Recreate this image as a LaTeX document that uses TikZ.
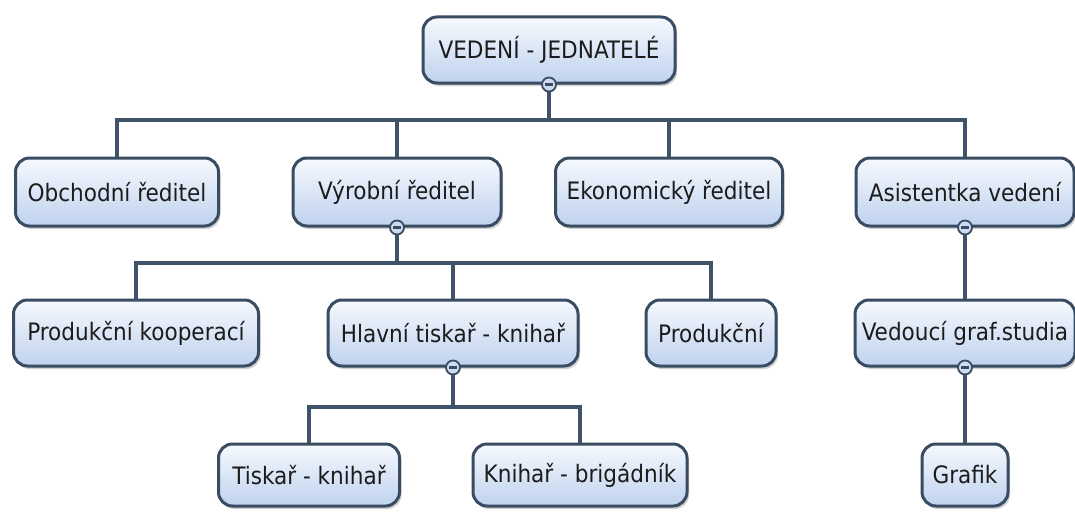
\documentclass[tikz,border=0pt]{standalone}
\usepackage{fontspec}
\setmainfont{DejaVu Sans Condensed}
\usetikzlibrary{shadows}
\definecolor{boxborder}{HTML}{3A4C62}
\definecolor{linecol}{HTML}{3E5268}
\definecolor{boxtop}{HTML}{F6F9FE}
\definecolor{boxbot}{HTML}{BFD2EE}
\definecolor{txt}{HTML}{1C1C1C}
\tikzset{
  orgbox/.style={draw=boxborder, line width=3pt, rounded corners=14pt,
    top color=boxtop, bottom color=boxbot, text=txt, inner sep=0pt,
    font=\fontsize{24}{28}\selectfont,
    drop shadow={shadow xshift=2pt, shadow yshift=-3pt, opacity=0.35}},
  conn/.style={draw=linecol, line width=3.2pt},
  collapse/.style={circle, draw=boxborder, line width=1.8pt, fill=boxbot!80!white,
    minimum size=14pt, inner sep=0pt,
    path picture={\draw[boxborder, line width=2.2pt]
      ([xshift=3pt]path picture bounding box.west) --
      ([xshift=-3pt]path picture bounding box.east);}}
}
\begin{document}
\begin{tikzpicture}[x=1pt,y=-1pt]
\useasboundingbox[fill=white] (0,0) rectangle (1075,511);
% bus coordinates
\coordinate (b0) at (0,120);
\coordinate (b1) at (0,263);
\coordinate (b2) at (0,407);
% boxes
\node[orgbox, minimum width=252pt, minimum height=66pt] (top) at (549,50) {VEDENÍ - JEDNATELÉ};
\node[orgbox, minimum width=203pt, minimum height=68pt] (obch) at (117,192) {Obchodní ředitel};
\node[orgbox, minimum width=208pt, minimum height=68pt] (vyr) at (397,192) {Výrobní ředitel};
\node[orgbox, minimum width=227pt, minimum height=68pt] (eko) at (669,192) {Ekonomický ředitel};
\node[orgbox, minimum width=218pt, minimum height=68pt] (asis) at (965,192) {Asistentka vedení};
\node[orgbox, minimum width=245pt, minimum height=66pt] (prodk) at (136,333) {Produkční kooperací};
\node[orgbox, minimum width=250pt, minimum height=66pt] (hlav) at (453,333) {Hlavní tiskař - knihař};
\node[orgbox, minimum width=130pt, minimum height=66pt] (prod) at (711,333) {Produkční};
\node[orgbox, minimum width=220pt, minimum height=66pt] (ved) at (965,333) {Vedoucí graf.studia};
\node[orgbox, minimum width=181pt, minimum height=62pt] (tisk) at (309,475) {Tiskař - knihař};
\node[orgbox, minimum width=214pt, minimum height=62pt] (knih) at (580,475) {Knihař - brigádník};
\node[orgbox, minimum width=86pt, minimum height=62pt] (graf) at (965,475) {Grafik};
% level 0 -> 1
\draw[conn] (top.south) -- (top.south |- b0);
\draw[conn] (obch.north) -- (obch.north |- b0) -- (asis.north |- b0) -- (asis.north);
\draw[conn] (vyr.north |- b0) -- (vyr.north);
\draw[conn] (eko.north |- b0) -- (eko.north);
% level 1 -> 2
\draw[conn] (vyr.south) -- (vyr.south |- b1);
\draw[conn] (prodk.north) -- (prodk.north |- b1) -- (prod.north |- b1) -- (prod.north);
\draw[conn] (hlav.north |- b1) -- (hlav.north);
\draw[conn] (asis.south) -- (ved.north);
% level 2 -> 3
\draw[conn] (hlav.south) -- (hlav.south |- b2);
\draw[conn] (tisk.north) -- (tisk.north |- b2) -- (knih.north |- b2) -- (knih.north);
\draw[conn] (ved.south) -- (graf.north);
% collapse markers
\node[collapse] (ctop) at (top.south) {};
\node[collapse] (cvyr) at (vyr.south) {};
\node[collapse] (casis) at (asis.south) {};
\node[collapse] (chlav) at (hlav.south) {};
\node[collapse] (cved) at (ved.south) {};
\end{tikzpicture}
\end{document}
